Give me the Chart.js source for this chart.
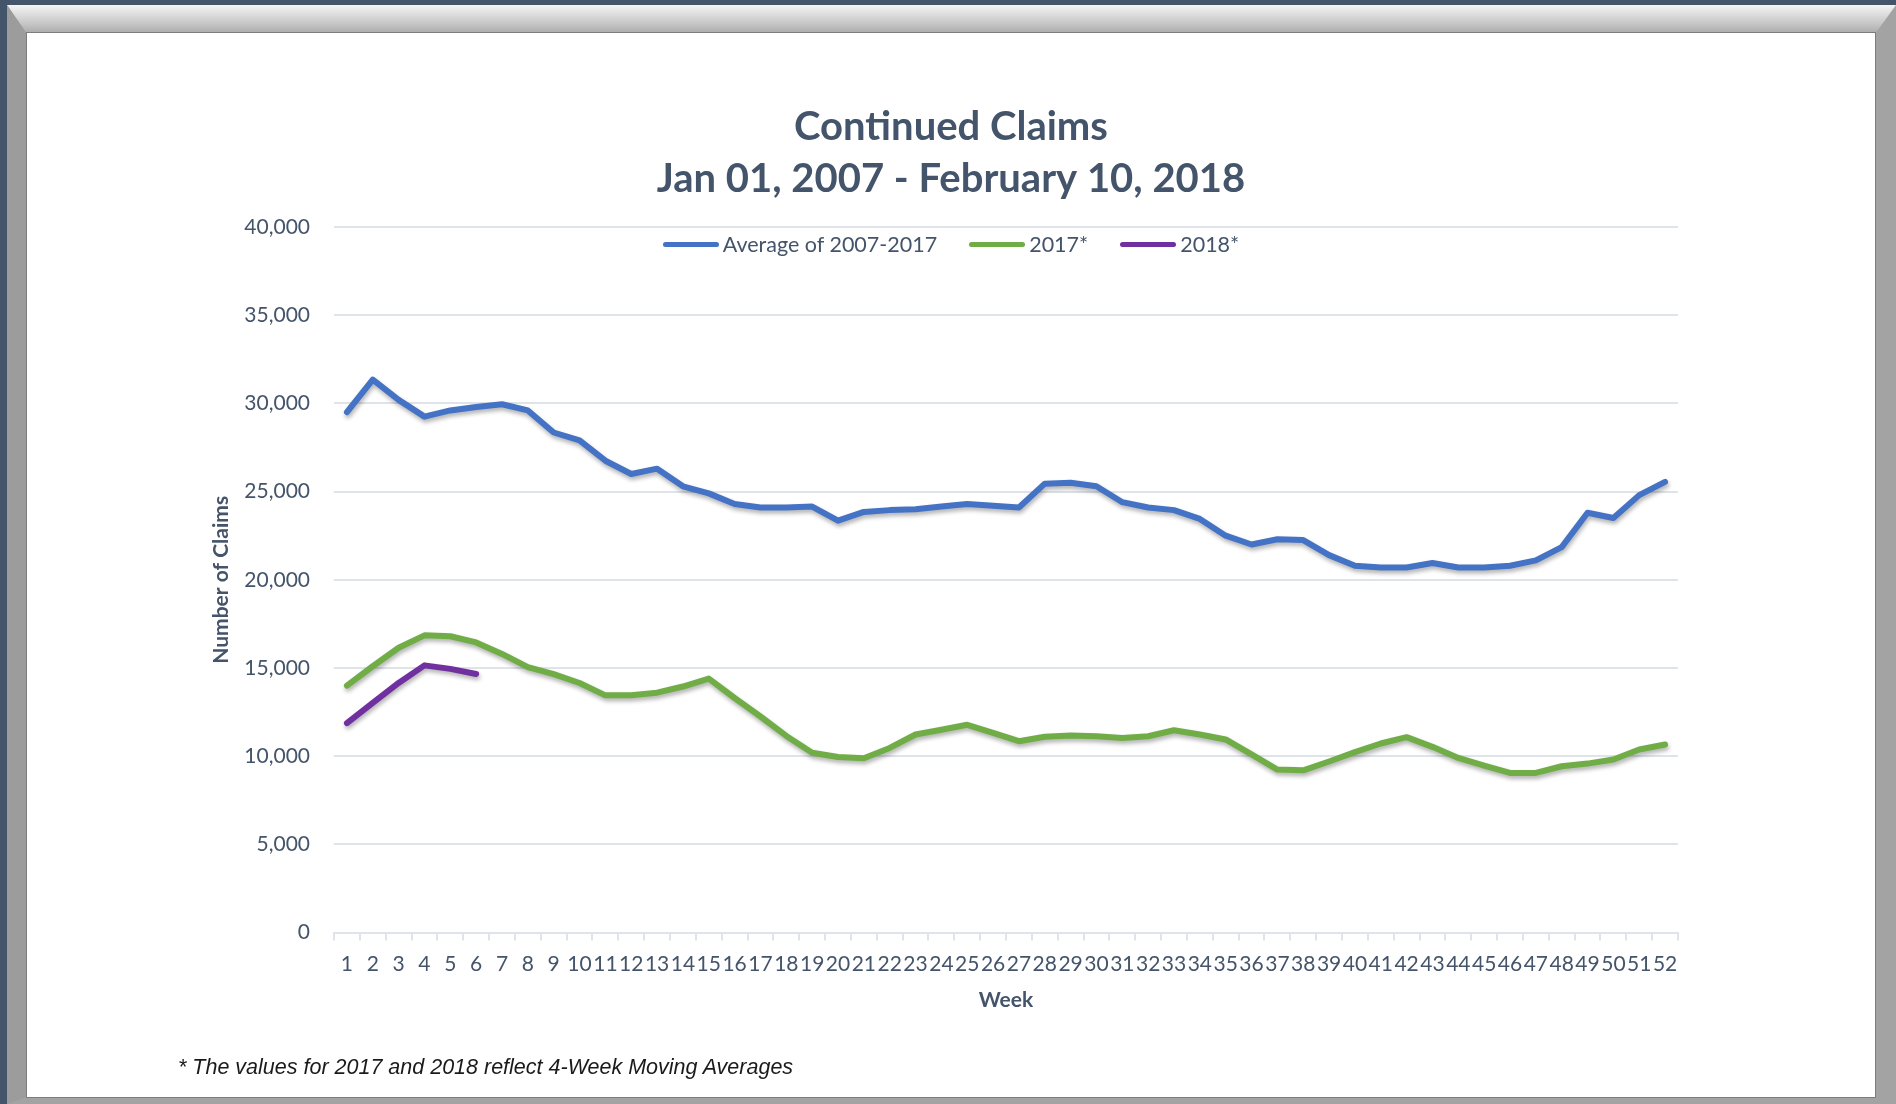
<!DOCTYPE html>
<html>
<head>
<meta charset="utf-8">
<script src="https://cdn.jsdelivr.net/npm/chart.js@4.4.1/dist/chart.umd.min.js"></script>
<style>
    html, body { margin: 0; padding: 0; }
    body { width: 1896px; height: 1104px; background: #44546a; position: relative; overflow: hidden; font-family: Lato, "Open Sans", sans-serif; }
    #frame { position: absolute; left: 7px; top: 5px; width: 1889px; height: 1099px; background: #a3a3a3; }
    #bevelTop { position: absolute; left: 0; top: 0; width: 1889px; height: 29px;
        background: linear-gradient(#f4f4f4, #c9c9c9 60%, #a9a9a9);
        clip-path: polygon(0 0, 1889px 0, 1868px 29px, 20px 29px); }
    #bevelLeft { position: absolute; left: 0; top: 0; width: 20px; height: 1099px; background: #9c9c9c;
        clip-path: polygon(0 0, 20px 29px, 20px 1092px, 0 1099px); }
    #panel { position: absolute; left: 27px; top: 33px; width: 1848px; height: 1064px; background: #fff;
        box-shadow: 0 0 0 1px #7d7d7d; }
    #legend { position: absolute; left: 0; width: 1848px; top: 198px; display: flex; justify-content: center; gap: 32px;
        font-size: 21.5px; color: #44546a; }
    .item { display: flex; align-items: center; }
    .swatch { width: 56px; height: 5px; border-radius: 3px; margin-right: 4px; }
    #note { position: absolute; left: 151px; top: 1022px; font-family: "Liberation Sans", Arial, sans-serif;
        font-style: italic; font-size: 21.5px; color: #1a1a1a; }
</style>
</head>
<body>
<div id="frame">
    <div id="bevelTop"></div>
    <div id="bevelLeft"></div>
</div>
<div id="panel">
    <canvas id="claimsChart" width="1848" height="1064"></canvas>
    <div id="legend"></div>
    <div id="note">* The values for 2017 and 2018 reflect 4-Week Moving Averages</div>
</div>
<script>
// week labels on the x axis
const weeks = ['1','2','3','4','5','6','7','8','9','10','11','12','13','14','15','16','17','18','19','20',
    '21','22','23','24','25','26','27','28','29','30','31','32','33','34','35','36','37','38','39','40',
    '41','42','43','44','45','46','47','48','49','50','51','52'];

// Average of 2007-2017
const avgClaims = [29500, 31350, 30200, 29250, 29600, 29800, 29950, 29600, 28350, 27900,
    26750, 26000, 26300, 25300, 24900, 24300, 24100, 24100, 24150, 23350,
    23850, 23950, 24000, 24150, 24300, 24200, 24100, 25450, 25500, 25300,
    24400, 24100, 23950, 23450, 22500, 22000, 22300, 22250, 21400, 20800,
    20700, 20700, 20950, 20700, 20700, 20800, 21100, 21850, 23800, 23500,
    24800, 25550];

// 2017 (4-week moving average)
const claims2017 = [14000, 15100, 16150, 16850, 16800, 16450, 15800, 15050, 14650, 14150,
    13450, 13450, 13600, 13950, 14400, 13300, 12250, 11150, 10200, 9950,
    9880, 10470, 11230, 11500, 11780, 11320, 10850, 11100, 11170, 11130,
    11030, 11130, 11470, 11230, 10950, 10100, 9240, 9200, 9700, 10230,
    10720, 11080, 10530, 9900, 9470, 9050, 9050, 9430, 9580, 9810,
    10380, 10660];

// 2018 (4-week moving average), only first weeks so far
const claims2018 = [11880, 13020, 14150, 15150, 14950, 14660];

const seriesNames = ['Average of 2007-2017', '2017*', '2018*'];
const seriesColors = ['#4472c4', '#70ad47', '#7030a0'];

const textColor = '#44546a';
const gridColor = '#dfe3ea';

// soft shadow under the lines, like the excel chart
const lineShadow = {
    id: 'lineShadow',
    beforeDatasetDraw(chart) {
        const ctx = chart.ctx;
        ctx.save();
        ctx.shadowColor = 'rgba(0,0,0,0.3)';
        ctx.shadowBlur = 4;
        ctx.shadowOffsetX = 1;
        ctx.shadowOffsetY = 3;
    },
    afterDatasetDraw(chart) {
        chart.ctx.restore();
    }
};

function makeSet(i, data) {
    return {
        label: seriesNames[i],
        data: data,
        borderColor: seriesColors[i],
        backgroundColor: seriesColors[i],
        borderWidth: 6,
        borderCapStyle: 'round',
        borderJoinStyle: 'round',
        pointRadius: 0,
        tension: 0,
        fill: false
    };
}

const ctx = document.getElementById('claimsChart').getContext('2d');
const myChart = new Chart(ctx, {
    type: 'line',
    data: {
        labels: weeks,
        datasets: [makeSet(0, avgClaims), makeSet(1, claims2017), makeSet(2, claims2018)]
    },
    plugins: [lineShadow],
    options: {
        responsive: false,
        animation: false,
        devicePixelRatio: 1,
        layout: { padding: { left: 170, right: 170, top: 21, bottom: 80 } },
        plugins: {
            legend: { display: false },
            tooltip: { enabled: false },
            title: {
                display: true,
                text: ['Continued Claims', 'Jan 01, 2007 - February 10, 2018'],
                color: textColor,
                font: { family: 'Lato', size: 40, weight: 'bold', lineHeight: 1.3 },
                padding: { top: 47, bottom: 22 }
            }
        },
        scales: {
            x: {
                offset: true,
                grid: { display: true, offset: true, drawOnChartArea: false, drawTicks: true, tickLength: 8, color: gridColor, lineWidth: 2 },
                border: { display: true, color: gridColor, width: 2 },
                ticks: { autoSkip: false, maxRotation: 0, minRotation: 0, padding: 11, color: textColor, font: { family: 'Lato', size: 21 } },
                title: { display: true, text: 'Week', color: textColor, font: { family: 'Lato', size: 21, weight: 'bold' }, padding: { top: 0, bottom: 4 } }
            },
            y: {
                min: 0,
                max: 40000,
                afterFit(scale) { scale.width = 137; },
                grid: { drawTicks: false, color: gridColor, lineWidth: 2 },
                border: { display: false },
                ticks: {
                    stepSize: 5000,
                    padding: 24,
                    color: textColor,
                    font: { family: 'Lato', size: 21 },
                    callback: v => v.toLocaleString('en-US')
                },
                title: { display: true, text: 'Number of Claims', color: textColor, font: { family: 'Lato', size: 21, weight: 'bold' }, padding: { top: 12, bottom: 0 } }
            },
            // empty spacer on the right so the title stays centred on the panel
            spacer: {
                position: 'right',
                display: true,
                afterFit(scale) { scale.width = 27; },
                grid: { display: false },
                border: { display: false },
                ticks: { display: false }
            }
        }
    }
});

// legend sits inside the plot, under the 40,000 line
const legendBox = document.getElementById('legend');
seriesNames.forEach((name, i) => {
    const item = document.createElement('div');
    item.className = 'item';
    item.innerHTML = '<div class="swatch" style="background:' + seriesColors[i] + '"></div><span>' + name + '</span>';
    legendBox.appendChild(item);
});
</script>
</body>
</html>
